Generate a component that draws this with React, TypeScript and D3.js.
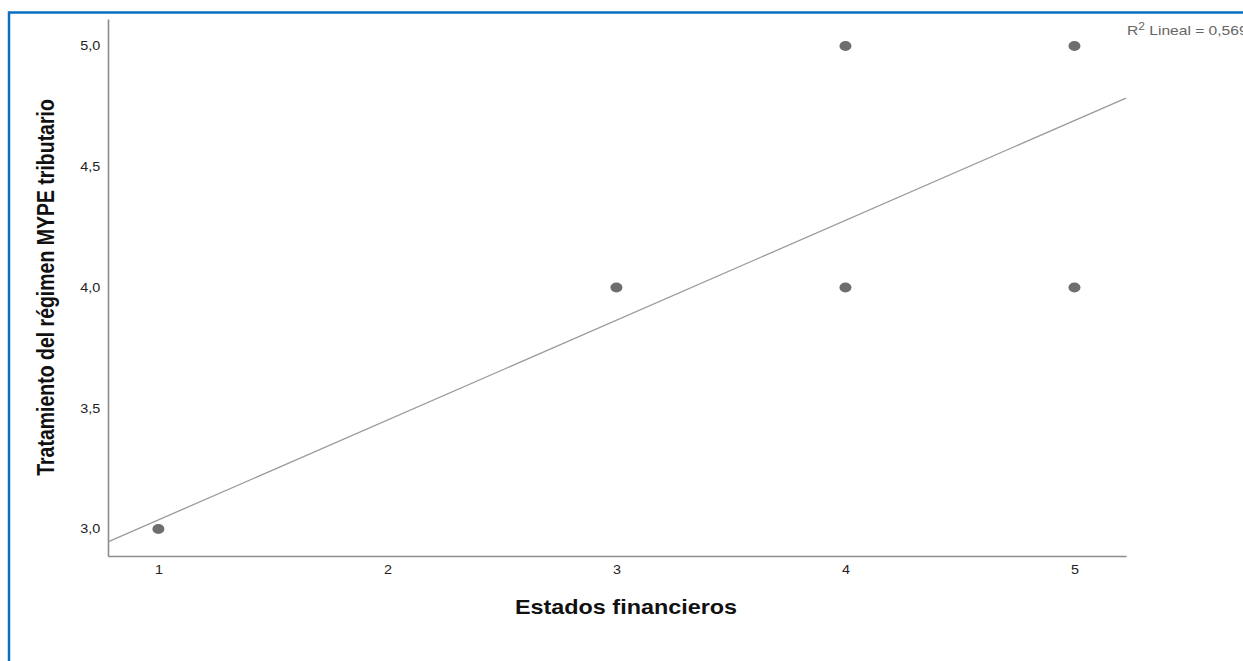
import React, { useEffect, useRef } from "react";
import * as d3 from "d3";

// Observed pairs: Estados financieros (x) vs Tratamiento del régimen MYPE tributario (y)
const xValues = [1, 3, 4, 4, 5, 5];
const yValues = [3, 4, 4, 5, 4, 5];

// Linear fit coefficients and summary
const fitIntercept = 2.624;
const fitSlope = 0.4135;
const rSquaredLabel = "0,569";

const xTicks = [1, 2, 3, 4, 5];
const yTicks = [3.0, 3.5, 4.0, 4.5, 5.0];

const xTitle = "Estados financieros";
const yTitle = "Tratamiento del régimen MYPE tributario";

const W = 1243;
const H = 661;
// text is drawn slightly widened horizontally
const SX = 1.2;

export default function App() {
  const ref = useRef<SVGSVGElement | null>(null);

  useEffect(() => {
    const svg = d3.select(ref.current);
    svg.selectAll("*").remove();

    const font = "'Liberation Sans', Arial, sans-serif";
    const left = 108, right = 1126, top = 19, bottom = 556;

    const x = d3.scaleLinear().domain([0.78, 5.225]).range([left, right]);
    const y = d3.scaleLinear().domain([2.888, 5.112]).range([bottom, top]);

    svg.append("rect").attr("width", W).attr("height", H).attr("fill", "#fff");

    // frame
    svg
      .append("rect")
      .attr("x", 9)
      .attr("y", 12.5)
      .attr("width", W + 20)
      .attr("height", H + 20)
      .attr("fill", "none")
      .attr("stroke", "#0a6fc2")
      .attr("stroke-width", 2.5);

    const fmtY = (d: number) => d3.format(".1f")(d).replace(".", ",");

    // x axis
    const gx = svg
      .append("g")
      .attr("transform", `translate(0,${bottom})`)
      .call(
        d3
          .axisBottom(x)
          .tickValues(xTicks)
          .tickSize(0)
          .tickSizeOuter(0)
          .tickPadding(9)
          .tickFormat((d) => String(d))
      );
    gx.select(".domain").attr("stroke", "#8c8c8c").attr("stroke-width", 1.6);
    gx.selectAll("text")
      .attr("font-family", font)
      .attr("font-size", 12)
      .attr("fill", "#222")
      .attr("transform", `scale(${SX},1)`);

    // y axis
    const gy = svg
      .append("g")
      .attr("transform", `translate(${left},0)`)
      .call(
        d3
          .axisLeft(y)
          .tickValues(yTicks)
          .tickSize(0)
          .tickSizeOuter(0)
          .tickPadding(6.5)
          .tickFormat((d) => fmtY(d as number))
      );
    gy.select(".domain").attr("stroke", "#8c8c8c").attr("stroke-width", 1.6);
    gy.selectAll("text")
      .attr("font-family", font)
      .attr("font-size", 12)
      .attr("fill", "#222")
      .attr("transform", `scale(${SX},1)`);

    // fit line
    const [x0, x1] = x.domain();
    const line = d3
      .line<number>()
      .x((d) => x(d))
      .y((d) => y(fitIntercept + fitSlope * d));
    svg
      .append("path")
      .attr("d", line([x0, x1]))
      .attr("stroke", "#9a9a9a")
      .attr("stroke-width", 1.3)
      .attr("fill", "none");

    // points
    svg
      .append("g")
      .selectAll("ellipse")
      .data(xValues.map((v, i) => [v, yValues[i]]))
      .join("ellipse")
      .attr("cx", (d) => x(d[0]))
      .attr("cy", (d) => y(d[1]))
      .attr("rx", 6)
      .attr("ry", 5)
      .attr("fill", "#6e6e6e");

    // R² annotation
    const r2 = svg
      .append("text")
      .attr("transform", `translate(1127,35) scale(${SX},1)`)
      .attr("font-family", font)
      .attr("font-size", 13)
      .attr("fill", "#666");
    r2.append("tspan").text("R");
    r2.append("tspan").attr("dy", -5).attr("font-size", 10).text("2");
    r2.append("tspan").attr("dy", 5).text(` Lineal = ${rSquaredLabel}`);

    // axis titles
    svg
      .append("text")
      .attr("transform", `translate(${(left + right) / 2 + 9},614) scale(${SX},1)`)
      .attr("text-anchor", "middle")
      .attr("font-family", font)
      .attr("font-weight", "bold")
      .attr("font-size", 19.5)
      .attr("fill", "#111")
      .text(xTitle);

    svg
      .append("text")
      .attr(
        "transform",
        `translate(54,${(top + bottom) / 2 + 0}) scale(${SX},1) rotate(-90)`
      )
      .attr("text-anchor", "middle")
      .attr("font-family", font)
      .attr("font-weight", "bold")
      .attr("font-size", 19.5)
      .attr("fill", "#111")
      .text(yTitle);
  }, []);

  return (
    <svg
      ref={ref}
      width={W}
      height={H}
      style={{ position: "absolute", left: 0, top: 0, display: "block" }}
    />
  );
}
